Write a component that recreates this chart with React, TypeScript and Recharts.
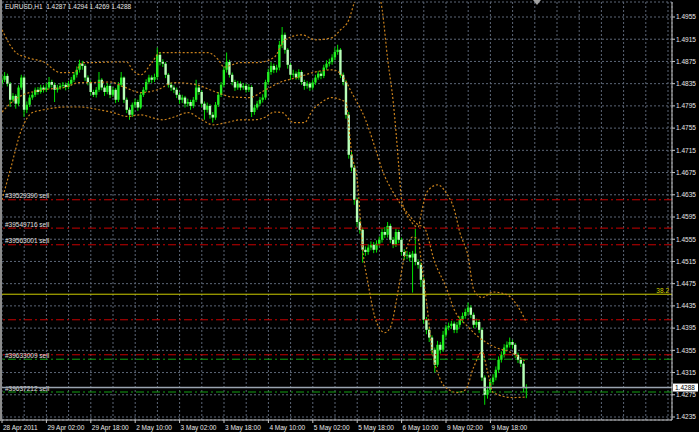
import { ComposedChart, Bar, Line, XAxis, YAxis, CartesianGrid, ReferenceLine } from "recharts";

// EURUSD H1, one entry per hourly bar (bar 0 = 28 Apr 2011 10:00)
const opens = [
  1.4836, 1.4842, 1.4849, 1.4835, 1.4806, 1.4813, 1.4799, 1.4828, 1.4846, 1.4788,
  1.4797, 1.4810, 1.4815, 1.4824, 1.4820, 1.4828, 1.4824, 1.4828, 1.4838, 1.4833,
  1.4824, 1.4828, 1.4831, 1.4833, 1.4829, 1.4835, 1.4842, 1.4851, 1.4860, 1.4871,
  1.4867, 1.4846, 1.4838, 1.4820, 1.4815, 1.4824, 1.4842, 1.4828, 1.4820, 1.4831,
  1.4815, 1.4824, 1.4806, 1.4833, 1.4846, 1.4806, 1.4788, 1.4779, 1.4797, 1.4802,
  1.4792, 1.4815, 1.4824, 1.4838, 1.4846, 1.4842, 1.4847, 1.4887, 1.4874, 1.4871,
  1.4851, 1.4833, 1.4828, 1.4824, 1.4815, 1.4806, 1.4810, 1.4799, 1.4802, 1.4795,
  1.4806, 1.4828, 1.4820, 1.4799, 1.4788, 1.4795, 1.4779, 1.4774, 1.4797, 1.4815,
  1.4833, 1.4860, 1.4874, 1.4851, 1.4838, 1.4828, 1.4835, 1.4828, 1.4831, 1.4824,
  1.4829, 1.4784, 1.4792, 1.4799, 1.4806, 1.4810, 1.4838, 1.4856, 1.4867, 1.4860,
  1.4864, 1.4905, 1.4923, 1.4896, 1.4869, 1.4851, 1.4853, 1.4846, 1.4856, 1.4838,
  1.4831, 1.4835, 1.4828, 1.4837, 1.4846, 1.4853, 1.4849, 1.4864, 1.4871, 1.4874,
  1.4882, 1.4892, 1.4896, 1.4851, 1.4838, 1.4779, 1.4707, 1.4684, 1.4626, 1.4586,
  1.4572, 1.4536, 1.4532, 1.4540, 1.4545, 1.4536, 1.4547, 1.4554, 1.4568, 1.4563,
  1.4579, 1.4554, 1.4545, 1.4568, 1.4554, 1.4532, 1.4525, 1.4527, 1.4522, 1.4529,
  1.4514, 1.4509, 1.4482, 1.4410, 1.4392, 1.4378, 1.4356, 1.4329, 1.4365, 1.4356,
  1.4383, 1.4396, 1.4399, 1.4403, 1.4392, 1.4401, 1.4410, 1.4417, 1.4424, 1.4432,
  1.4419, 1.4401, 1.4406, 1.4392, 1.4306, 1.4275, 1.4284, 1.4298, 1.4306, 1.4320,
  1.4338, 1.4347, 1.4360, 1.4365, 1.4370, 1.4365, 1.4347, 1.4338, 1.4331, 1.4287,
];
const highs = [
  1.4851, 1.4856, 1.4853, 1.4838, 1.4818, 1.4816, 1.4832, 1.4851, 1.4849, 1.4803,
  1.4815, 1.4820, 1.4828, 1.4829, 1.4833, 1.4832, 1.4836, 1.4847, 1.4842, 1.4837,
  1.4833, 1.4836, 1.4838, 1.4837, 1.4840, 1.4847, 1.4856, 1.4866, 1.4878, 1.4876,
  1.4870, 1.4850, 1.4841, 1.4824, 1.4829, 1.4856, 1.4845, 1.4832, 1.4836, 1.4834,
  1.4829, 1.4827, 1.4838, 1.4856, 1.4848, 1.4810, 1.4792, 1.4801, 1.4808, 1.4806,
  1.4820, 1.4829, 1.4843, 1.4851, 1.4850, 1.4853, 1.4900, 1.4892, 1.4879, 1.4874,
  1.4854, 1.4837, 1.4832, 1.4828, 1.4819, 1.4815, 1.4813, 1.4808, 1.4806, 1.4811,
  1.4842, 1.4832, 1.4823, 1.4803, 1.4801, 1.4798, 1.4784, 1.4802, 1.4820, 1.4838,
  1.4866, 1.4891, 1.4878, 1.4855, 1.4842, 1.4840, 1.4839, 1.4836, 1.4835, 1.4834,
  1.4832, 1.4797, 1.4804, 1.4811, 1.4816, 1.4842, 1.4862, 1.4874, 1.4871, 1.4869,
  1.4912, 1.4937, 1.4927, 1.4899, 1.4872, 1.4860, 1.4857, 1.4861, 1.4859, 1.4842,
  1.4840, 1.4838, 1.4842, 1.4851, 1.4858, 1.4857, 1.4869, 1.4877, 1.4880, 1.4888,
  1.4900, 1.4905, 1.4899, 1.4855, 1.4842, 1.4784, 1.4712, 1.4689, 1.4630, 1.4592,
  1.4576, 1.4542, 1.4546, 1.4551, 1.4550, 1.4553, 1.4560, 1.4574, 1.4577, 1.4586,
  1.4583, 1.4559, 1.4574, 1.4572, 1.4558, 1.4537, 1.4534, 1.4532, 1.4534, 1.4574,
  1.4519, 1.4513, 1.4486, 1.4415, 1.4396, 1.4382, 1.4360, 1.4372, 1.4370, 1.4390,
  1.4401, 1.4405, 1.4408, 1.4407, 1.4406, 1.4416, 1.4423, 1.4430, 1.4441, 1.4436,
  1.4423, 1.4412, 1.4410, 1.4396, 1.4310, 1.4290, 1.4303, 1.4312, 1.4326, 1.4344,
  1.4353, 1.4366, 1.4371, 1.4378, 1.4374, 1.4368, 1.4351, 1.4342, 1.4335, 1.4294,
];
const lows = [
  1.4830, 1.4838, 1.4830, 1.4793, 1.4801, 1.4790, 1.4795, 1.4824, 1.4775, 1.4782,
  1.4793, 1.4806, 1.4811, 1.4815, 1.4817, 1.4819, 1.4820, 1.4825, 1.4828, 1.4802,
  1.4819, 1.4824, 1.4826, 1.4823, 1.4825, 1.4831, 1.4838, 1.4846, 1.4855, 1.4860,
  1.4840, 1.4832, 1.4814, 1.4811, 1.4810, 1.4820, 1.4823, 1.4813, 1.4816, 1.4809,
  1.4811, 1.4800, 1.4802, 1.4829, 1.4800, 1.4782, 1.4770, 1.4775, 1.4792, 1.4786,
  1.4789, 1.4811, 1.4820, 1.4834, 1.4836, 1.4838, 1.4843, 1.4868, 1.4865, 1.4845,
  1.4828, 1.4822, 1.4818, 1.4809, 1.4799, 1.4800, 1.4792, 1.4794, 1.4788, 1.4791,
  1.4802, 1.4815, 1.4793, 1.4770, 1.4783, 1.4772, 1.4765, 1.4770, 1.4793, 1.4811,
  1.4829, 1.4855, 1.4846, 1.4832, 1.4822, 1.4824, 1.4823, 1.4824, 1.4819, 1.4820,
  1.4775, 1.4779, 1.4788, 1.4795, 1.4801, 1.4806, 1.4833, 1.4851, 1.4854, 1.4855,
  1.4859, 1.4899, 1.4889, 1.4862, 1.4842, 1.4846, 1.4842, 1.4842, 1.4833, 1.4824,
  1.4826, 1.4822, 1.4824, 1.4833, 1.4842, 1.4843, 1.4845, 1.4860, 1.4866, 1.4869,
  1.4877, 1.4887, 1.4845, 1.4832, 1.4772, 1.4700, 1.4677, 1.4617, 1.4578, 1.4565,
  1.4513, 1.4525, 1.4527, 1.4535, 1.4530, 1.4531, 1.4542, 1.4549, 1.4557, 1.4558,
  1.4548, 1.4539, 1.4541, 1.4548, 1.4526, 1.4518, 1.4519, 1.4515, 1.4459, 1.4508,
  1.4502, 1.4469, 1.4403, 1.4384, 1.4370, 1.4347, 1.4315, 1.4325, 1.4349, 1.4352,
  1.4378, 1.4391, 1.4394, 1.4386, 1.4386, 1.4396, 1.4405, 1.4412, 1.4419, 1.4413,
  1.4395, 1.4396, 1.4386, 1.4300, 1.4257, 1.4268, 1.4279, 1.4293, 1.4301, 1.4315,
  1.4333, 1.4342, 1.4355, 1.4360, 1.4358, 1.4341, 1.4332, 1.4325, 1.4280, 1.4269,
];
const closes = [
  1.4842, 1.4849, 1.4835, 1.4806, 1.4813, 1.4799, 1.4828, 1.4846, 1.4788, 1.4797,
  1.4810, 1.4815, 1.4824, 1.4820, 1.4828, 1.4824, 1.4828, 1.4838, 1.4833, 1.4824,
  1.4828, 1.4831, 1.4833, 1.4829, 1.4835, 1.4842, 1.4851, 1.4860, 1.4871, 1.4867,
  1.4846, 1.4838, 1.4820, 1.4815, 1.4824, 1.4842, 1.4828, 1.4820, 1.4831, 1.4815,
  1.4824, 1.4806, 1.4833, 1.4846, 1.4806, 1.4788, 1.4779, 1.4797, 1.4802, 1.4792,
  1.4815, 1.4824, 1.4838, 1.4846, 1.4842, 1.4847, 1.4887, 1.4874, 1.4871, 1.4851,
  1.4833, 1.4828, 1.4824, 1.4815, 1.4806, 1.4810, 1.4799, 1.4802, 1.4795, 1.4806,
  1.4828, 1.4820, 1.4799, 1.4788, 1.4795, 1.4779, 1.4774, 1.4797, 1.4815, 1.4833,
  1.4860, 1.4874, 1.4851, 1.4838, 1.4828, 1.4835, 1.4828, 1.4831, 1.4824, 1.4829,
  1.4784, 1.4792, 1.4799, 1.4806, 1.4810, 1.4838, 1.4856, 1.4867, 1.4860, 1.4864,
  1.4905, 1.4923, 1.4896, 1.4869, 1.4851, 1.4853, 1.4846, 1.4856, 1.4838, 1.4831,
  1.4835, 1.4828, 1.4837, 1.4846, 1.4853, 1.4849, 1.4864, 1.4871, 1.4874, 1.4882,
  1.4892, 1.4896, 1.4851, 1.4838, 1.4779, 1.4707, 1.4684, 1.4626, 1.4586, 1.4572,
  1.4536, 1.4532, 1.4540, 1.4545, 1.4536, 1.4547, 1.4554, 1.4568, 1.4563, 1.4579,
  1.4554, 1.4545, 1.4568, 1.4554, 1.4532, 1.4525, 1.4527, 1.4522, 1.4529, 1.4514,
  1.4509, 1.4482, 1.4410, 1.4392, 1.4378, 1.4356, 1.4329, 1.4365, 1.4356, 1.4383,
  1.4396, 1.4399, 1.4403, 1.4392, 1.4401, 1.4410, 1.4417, 1.4424, 1.4432, 1.4419,
  1.4401, 1.4406, 1.4392, 1.4306, 1.4275, 1.4284, 1.4298, 1.4306, 1.4320, 1.4338,
  1.4347, 1.4360, 1.4365, 1.4370, 1.4365, 1.4347, 1.4338, 1.4331, 1.4287, 1.4288,
];

// Bollinger bands, read at selected bars
const upperBars = [0, 5, 9, 15, 21, 26, 29, 33, 40, 45, 47, 50, 54, 57, 63, 74, 78, 80, 86, 92, 98, 102, 108, 113, 119, 122, 125, 127, 131, 134, 137, 139, 141, 142, 143, 144, 147, 150, 151, 153, 157, 160, 163, 165, 168, 170, 173, 177, 182, 186, 189];
const upperBand = [1.4932, 1.4891, 1.4882, 1.4874, 1.4855, 1.4855, 1.4873, 1.4873, 1.4874, 1.4874, 1.4860, 1.4851, 1.4873, 1.4891, 1.4891, 1.4891, 1.4878, 1.4865, 1.4873, 1.4873, 1.4882, 1.4914, 1.4923, 1.4914, 1.4918, 1.4932, 1.4950, 1.4982, 1.5031, 1.5022, 1.4968, 1.4878, 1.4801, 1.4747, 1.4685, 1.4626, 1.4590, 1.4577, 1.4599, 1.4639, 1.4653, 1.4639, 1.4608, 1.4567, 1.4523, 1.4464, 1.4450, 1.4460, 1.4455, 1.4433, 1.4405];
const middleBars = [0, 6, 15, 23, 28, 32, 39, 44, 50, 56, 62, 70, 77, 83, 89, 95, 100, 107, 112, 119, 123, 126, 131, 135, 137, 141, 146, 150, 152, 156, 160, 163, 168, 172, 178, 183, 189];
const middleBand = [1.4784, 1.4811, 1.4824, 1.4829, 1.4837, 1.4837, 1.4838, 1.4829, 1.4819, 1.4824, 1.4837, 1.4833, 1.4820, 1.4811, 1.4810, 1.4824, 1.4837, 1.4847, 1.4855, 1.4860, 1.4847, 1.4819, 1.4770, 1.4711, 1.4680, 1.4639, 1.4603, 1.4581, 1.4577, 1.4513, 1.4469, 1.4428, 1.4397, 1.4378, 1.4360, 1.4352, 1.4334];
const lowerBars = [0, 3, 7, 11, 15, 23, 28, 35, 40, 45, 50, 54, 58, 62, 67, 72, 76, 81, 86, 91, 95, 98, 101, 105, 109, 112, 115, 119, 122, 124, 125, 126, 128, 130, 132, 135, 138, 140, 143, 145, 148, 150, 151, 153, 155, 158, 161, 164, 167, 170, 173, 175, 177, 184, 189];
const lowerBand = [1.4626, 1.4680, 1.4752, 1.4783, 1.4788, 1.4793, 1.4793, 1.4788, 1.4783, 1.4776, 1.4779, 1.4774, 1.4770, 1.4775, 1.4783, 1.4770, 1.4761, 1.4765, 1.4770, 1.4770, 1.4775, 1.4784, 1.4783, 1.4765, 1.4765, 1.4788, 1.4801, 1.4810, 1.4806, 1.4801, 1.4757, 1.4711, 1.4662, 1.4536, 1.4473, 1.4405, 1.4387, 1.4397, 1.4469, 1.4523, 1.4559, 1.4554, 1.4518, 1.4441, 1.4356, 1.4302, 1.4284, 1.4279, 1.4284, 1.4325, 1.4352, 1.4316, 1.4279, 1.4270, 1.4271];

// every 16 bars
const timeLabels = ["28 Apr 2011", "29 Apr 02:00", "29 Apr 18:00", "2 May 10:00", "3 May 02:00", "3 May 18:00", "4 May 10:00", "5 May 02:00", "5 May 18:00", "6 May 10:00", "9 May 02:00", "9 May 18:00"];
const gridBars = [0, 8, 16, 24, 32, 40, 48, 56, 64, 72, 80, 88, 96, 104, 112, 120, 128, 136, 144, 152, 160, 168, 176, 184, 192, 200, 208, 216, 224, 232, 240];
const priceTicks = [1.4235, 1.4275, 1.4315, 1.4355, 1.4395, 1.4435, 1.4475, 1.4515, 1.4555, 1.4595, 1.4635, 1.4675, 1.4715, 1.4755, 1.4795, 1.4835, 1.4875, 1.4915, 1.4955];

const orderLines = [
  { price: 1.4626, color: "#c80000", label: "#39529390 sell" },
  { price: 1.4575, color: "#c80000", label: "#39549716 sell" },
  { price: 1.4545, color: "#c80000", label: "#39563001 sell" },
  { price: 1.4410, color: "#c80000", label: "" },
  { price: 1.4347, color: "#c80000", label: "" },
  { price: 1.4339, color: "#12a012", label: "#39633009 sell" },
  { price: 1.4280, color: "#12a012", label: "#39637212 sell" },
];
const fiboLevel = 1.4456;
const bidPrice = 1.4288;

const data = closes.map((c, i) => {
  const u = upperBars.indexOf(i);
  const m = middleBars.indexOf(i);
  const lo = lowerBars.indexOf(i);
  return {
    i,
    o: opens[i],
    h: highs[i],
    l: lows[i],
    c,
    range: [lows[i], highs[i]],
    upper: u >= 0 ? upperBand[u] : null,
    middle: m >= 0 ? middleBand[m] : null,
    lower: lo >= 0 ? lowerBand[lo] : null,
  };
});

const FONT = 6.5;
const BAND = "#c8801c";

function Candle(props: any) {
  const { x, y, width, height, payload } = props;
  if (x == null || y == null) return null;
  const top = Math.min(y, y + height);
  const hh = Math.abs(height);
  const { o, h, l, c } = payload;
  const k = h === l ? 0 : hh / (h - l);
  const yo = top + (h - o) * k;
  const yc = top + (h - c) * k;
  const cx = x + width / 2;
  const bTop = Math.min(yo, yc);
  const bH = Math.max(Math.abs(yc - yo), 1);
  const bear = c < o;
  return (
    <g>
      <line x1={cx} x2={cx} y1={top} y2={top + hh} stroke="#00e000" strokeWidth={1} />
      <rect x={cx - 1.2} y={bTop} width={2.4} height={bH} fill={bear ? "#b8ffb8" : "#22ee22"} />
    </g>
  );
}

function TimeTick(props: any) {
  const { x, y, payload } = props;
  const v = payload.value;
  if (v % 16 !== 0) return null;
  const label = timeLabels[v / 16];
  if (!label) return null;
  return (
    <g>
      <line x1={x} x2={x} y1={y - 3} y2={y} stroke="#c8c8c8" />
      <text x={x + 1} y={y + 6.5} fill="#e8e8e8" fontSize={FONT}>{label}</text>
    </g>
  );
}

const orderLabel = (text: string) => (p: any) =>
  text ? (
    <text x={p.viewBox.x + 3} y={p.viewBox.y - 1.5} fill="#e0e0e0" fontSize={FONT}>{text}</text>
  ) : null;

const fiboLabel = (p: any) => (
  <text x={p.viewBox.x + p.viewBox.width - 3} y={p.viewBox.y - 1.5} fill="#d4d400" fontSize={FONT} textAnchor="end">38.2</text>
);

const bidLabel = (p: any) => (
  <g>
    <rect x={p.viewBox.x + p.viewBox.width + 1} y={p.viewBox.y - 4} width={25} height={8} fill="#ffffff" />
    <text x={p.viewBox.x + p.viewBox.width + 3} y={p.viewBox.y + 2.5} fill="#000000" fontSize={FONT}>{bidPrice.toFixed(4)}</text>
  </g>
);

export default function App() {
  return (
    <div style={{ position: "relative", width: 699, height: 432, background: "#000", fontFamily: "'Liberation Sans', Arial, sans-serif" }}>
      <style>{`body{margin:0;background:#000}`}</style>
      <ComposedChart width={699} height={432} data={data} margin={{ top: 2, right: 0, bottom: 0, left: 2 }}>
        <CartesianGrid stroke="#5c6677" strokeDasharray="2 2" />
        <XAxis
          dataKey="i"
          type="number"
          domain={[0, 241.44]}
          ticks={gridBars}
          interval={0}
          height={12}
          tickSize={3}
          tickMargin={0}
          tickLine={false}
          axisLine={{ stroke: "#c8c8c8" }}
          tick={<TimeTick />}
          allowDataOverflow
        />
        <YAxis
          orientation="right"
          width={27}
          domain={[1.42296, 1.4982]}
          ticks={priceTicks}
          interval={0}
          allowDataOverflow
          tickSize={3}
          tickMargin={1}
          tickFormatter={(v: number) => v.toFixed(4)}
          tick={{ fill: "#e8e8e8", fontSize: FONT }}
          axisLine={{ stroke: "#c8c8c8" }}
          tickLine={{ stroke: "#c8c8c8" }}
        />
        {orderLines.map((ln) => (
          <ReferenceLine key={ln.price} y={ln.price} stroke={ln.color} strokeDasharray="8 3 2 3" label={orderLabel(ln.label)} />
        ))}
        <ReferenceLine y={fiboLevel} stroke="#cccc00" label={fiboLabel} />
        <ReferenceLine y={bidPrice} stroke="#9aa4b0" strokeWidth={1.5} label={bidLabel} />
        <Line dataKey="upper" type="monotone" stroke={BAND} strokeWidth={1.2} strokeDasharray="2 2" dot={false} connectNulls isAnimationActive={false} />
        <Line dataKey="middle" type="monotone" stroke={BAND} strokeWidth={1.2} strokeDasharray="2 2" dot={false} connectNulls isAnimationActive={false} />
        <Line dataKey="lower" type="monotone" stroke={BAND} strokeWidth={1.2} strokeDasharray="2 2" dot={false} connectNulls isAnimationActive={false} />
        <Bar dataKey="range" barSize={3} shape={<Candle />} isAnimationActive={false} />
      </ComposedChart>
      <div style={{ position: "absolute", left: 5, top: 3, color: "#e8e8e8", fontSize: FONT, whiteSpace: "pre", lineHeight: "8px" }}>
        EURUSD,H1  1.4287 1.4294 1.4269 1.4288
      </div>
      <div style={{ position: "absolute", left: 0, top: 0, width: 2, height: 421, background: "#8c8c8c" }} />
      <svg style={{ position: "absolute", left: 533, top: 0 }} width={9} height={6}>
        <polygon points="0,0 8,0 4,5" fill="#a0a0a0" />
      </svg>
    </div>
  );
}
